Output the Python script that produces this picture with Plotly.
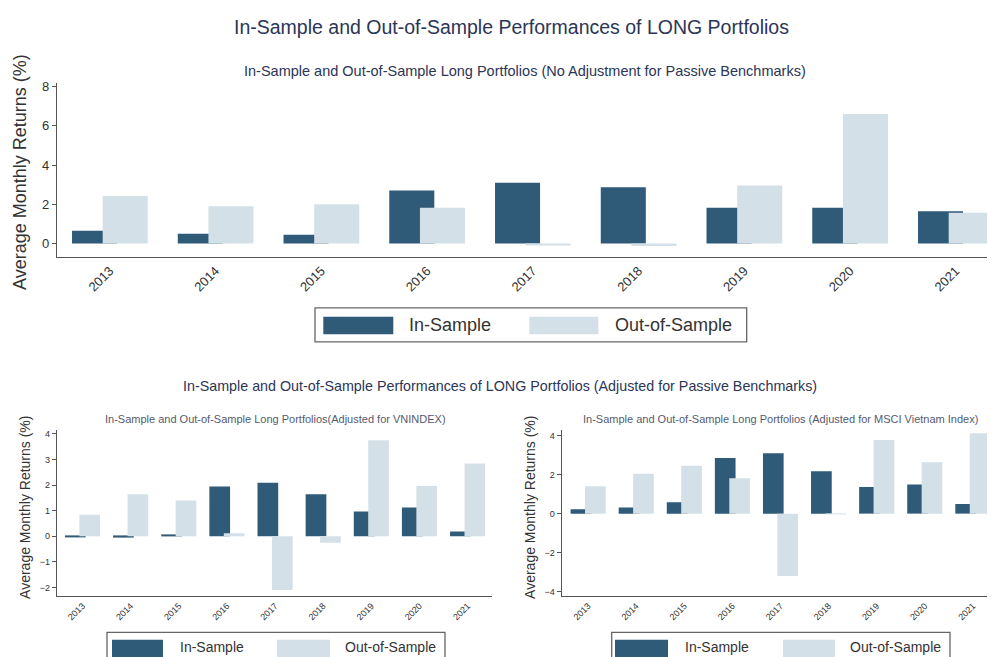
import plotly.graph_objects as go

years = ["2013", "2014", "2015", "2016", "2017", "2018", "2019", "2020", "2021"]

# Top panel: no adjustment
top_in = [0.65, 0.50, 0.45, 2.70, 3.10, 2.87, 1.83, 1.83, 1.65]
top_out = [2.42, 1.90, 2.00, 1.83, -0.10, -0.12, 2.96, 6.60, 1.57]

# Bottom-left: adjusted for VNINDEX
vn_in = [-0.03, -0.05, 0.05, 1.94, 2.09, 1.64, 0.97, 1.12, 0.19]
vn_out = [0.84, 1.64, 1.40, 0.12, -2.09, -0.25, 3.75, 1.96, 2.84]

# Bottom-right: adjusted for MSCI Vietnam Index
ms_in = [0.22, 0.32, 0.58, 2.85, 3.10, 2.17, 1.37, 1.49, 0.49]
ms_out = [1.41, 2.05, 2.46, 1.81, -3.20, -0.02, 3.78, 2.64, 4.12]

DARK = "#2f5a78"
LIGHT = "#d4e0e7"
TXT = "#333333"
TITLE = "#2b3557"
AX = "#555555"
FONT = "Liberation Sans, Arial, sans-serif"

# page has an 8px body margin; map reference page pixels to figure pixels
OFF = 8
W, H = 995 - OFF, 657 - OFF


def px(x):
    return (x - OFF) / W


def py(y):
    return 1 - (y - OFF) / H


fig = go.Figure()


def add_pair(xa, ya, vin, vout, width, off_in, off_out):
    fig.add_trace(go.Bar(x=years, y=vin, xaxis=xa, yaxis=ya, width=width, offset=off_in,
                         marker=dict(color=DARK, line=dict(width=0)), name="In-Sample",
                         showlegend=False))
    fig.add_trace(go.Bar(x=years, y=vout, xaxis=xa, yaxis=ya, width=width, offset=off_out,
                         marker=dict(color=LIGHT, line=dict(width=0)), name="Out-of-Sample",
                         showlegend=False))


add_pair("x", "y", top_in, top_out, 0.426, -0.358, -0.068)
add_pair("x2", "y2", vn_in, vn_out, 0.43, -0.365, -0.065)
add_pair("x3", "y3", ms_in, ms_out, 0.43, -0.365, -0.065)

xcommon = dict(type="category", showline=True, linecolor=AX, linewidth=1.3, ticks="",
               showgrid=False, zeroline=False, tickangle=-45, tickfont=dict(color=TXT))
ycommon = dict(showline=True, linecolor=AX, linewidth=1.3, ticks="outside", ticklen=4,
               tickcolor=AX, showgrid=False, zeroline=False, tickfont=dict(color=TXT))

fig.update_layout(
    width=W, height=H,
    margin=dict(l=0, r=0, t=0, b=0),
    paper_bgcolor="white", plot_bgcolor="white",
    barmode="overlay",
    font=dict(family=FONT, color=TXT),
    xaxis=dict(**xcommon, domain=[px(57), 1.0], anchor="y", range=[-0.5, 8.37],
               tickfont_size=13),
    yaxis=dict(**ycommon, domain=[py(255.5), py(80)], anchor="x", range=[-0.68, 8.2],
               tickvals=[0, 2, 4, 6, 8], tickfont_size=13),
    xaxis2=dict(**xcommon, domain=[px(57), px(491.7)], anchor="y2", range=[-0.53, 8.5],
                tickfont_size=9),
    yaxis2=dict(**ycommon, domain=[py(596.7), py(430)], anchor="x2", range=[-2.33, 4.13],
                tickvals=[-2, -1, 0, 1, 2, 3, 4], tickfont_size=9),
    xaxis3=dict(**xcommon, domain=[px(561.7), 1.0], anchor="y3", range=[-0.55, 8.46],
                tickfont_size=9),
    yaxis3=dict(**ycommon, domain=[py(596.7), py(430)], anchor="x3", range=[-4.23, 4.27],
                tickvals=[-4, -2, 0, 2, 4], tickfont_size=9),
)

ann = []


def text(x, y, s, size, color=TXT, angle=0, xanchor="center"):
    ann.append(dict(x=px(x), y=py(y), xref="paper", yref="paper", text=s, showarrow=False,
                    font=dict(size=size, color=color, family=FONT), textangle=angle,
                    xanchor=xanchor, yanchor="middle"))


text(511, 24, "In-Sample and Out-of-Sample Performances of LONG Portfolios", 19.5, TITLE)
text(525, 68, "In-Sample and Out-of-Sample Long Portfolios (No Adjustment for Passive Benchmarks)", 14.5, TITLE)
text(500, 385, "In-Sample and Out-of-Sample Performances of LONG Portfolios (Adjusted for Passive Benchmarks)", 14.3, TITLE)
text(275, 419, "In-Sample and Out-of-Sample Long Portfolios(Adjusted for VNINDEX)", 11, "#555a70")
text(780, 419, "In-Sample and Out-of-Sample Long Portfolios (Adjusted for MSCI Vietnam Index)", 11, "#555a70")
text(20, 170, "Average Monthly Returns (%)", 18, TXT, -90)
text(25, 508, "Average Monthly Returns (%)", 14, TXT, -90)
text(530, 508, "Average Monthly Returns (%)", 14, TXT, -90)

shapes = []


def rect(x0, y0, x1, y1, fill=None, line=None):
    shapes.append(dict(type="rect", xref="paper", yref="paper", x0=px(x0), x1=px(x1),
                       y0=py(y1), y1=py(y0), fillcolor=fill or "rgba(0,0,0,0)",
                       line=dict(color=line or "rgba(0,0,0,0)", width=1.3 if line else 0),
                       layer="above"))


# top legend
rect(315, 306.7, 746.7, 341, fill="white", line="#666666")
rect(323.3, 315.7, 393.3, 333.3, fill=DARK)
rect(529.3, 315.7, 598.3, 333.3, fill=LIGHT)
text(407, 324, "In-Sample", 18, TXT, xanchor="left")
text(613, 324, "Out-of-Sample", 18, TXT, xanchor="left")

# bottom-left legend
rect(107, 633.3, 445, 672, fill="white", line="#666666")
rect(112, 640.7, 163, 662, fill=DARK)
rect(277, 640.7, 330, 662, fill=LIGHT)
text(178, 648, "In-Sample", 14, TXT, xanchor="left")
text(343, 648, "Out-of-Sample", 14, TXT, xanchor="left")

# bottom-right legend
rect(611.7, 633.3, 950, 672, fill="white", line="#666666")
rect(615, 640.7, 668, 662, fill=DARK)
rect(783, 640.7, 835, 662, fill=LIGHT)
text(682.7, 648, "In-Sample", 14, TXT, xanchor="left")
text(848, 648, "Out-of-Sample", 14, TXT, xanchor="left")

fig.update_layout(annotations=ann, shapes=shapes)

fig.write_html("out.html")
